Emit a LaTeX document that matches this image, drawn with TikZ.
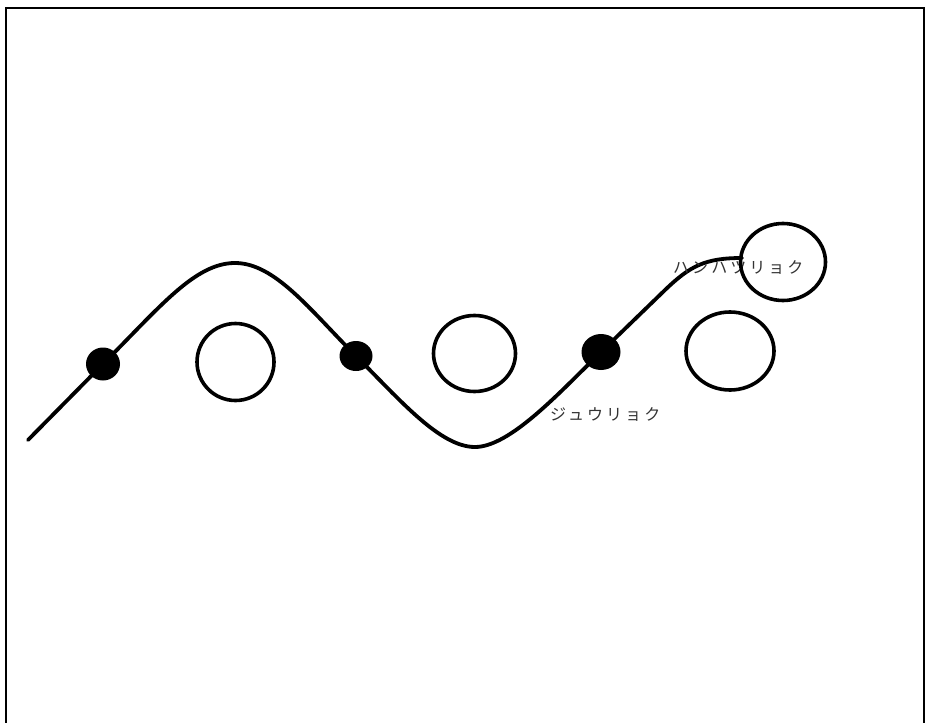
\documentclass[tikz,border=0pt]{standalone}
\usepackage{fontspec}
\newfontfamily\jpfont[LetterSpace=19]{Noto Sans CJK JP}
\tikzset{
  wave/.style={line width=3.8pt, line cap=round},
  dotblob/.style={fill=black},
  label/.style={anchor=west, inner sep=0pt, font=\jpfont\fontsize{16}{16}\selectfont, text=black!80},
}
\begin{document}
\begin{tikzpicture}[x=1pt, y=-1pt]
\useasboundingbox (0,0) rectangle (925,722);
\begin{scope}
\clip (0,0) rectangle (925,722);
\draw[line width=2pt] (6,8) rectangle (924,740);
\end{scope}
% circles
\draw[line width=3.6pt] (235.5,362) ellipse [x radius=38.5, y radius=38.5];
\draw[line width=3.6pt] (474.5,353.5) ellipse [x radius=41, y radius=38];
\draw[line width=3.6pt] (730,351) ellipse [x radius=44, y radius=39];
% coordinates
\coordinate (s) at (28,440);
\coordinate (d1) at (103,364);
\coordinate (p1) at (235,263);
\coordinate (d2) at (356,356);
\coordinate (t1) at (475,447);
\coordinate (d3) at (601,352);
\coordinate (m) at (665,290);
\coordinate (e) at (742,258);
\draw[wave] (s) -- (d1)
  .. controls (160,307) and (195,263) .. (p1)
  .. controls (275,263) and (310,310) .. (d2)
  .. controls (400,400) and (440,447) .. (t1)
  .. controls (510,447) and (560,392) .. (d3)
  -- (m)
  .. controls (690,266) and (705,258) .. (e);
% dots
\fill[dotblob] (d1) ellipse [x radius=17, y radius=16.5];
\fill[dotblob] (d2) ellipse [x radius=16.5, y radius=15];
\fill[dotblob] (d3) ellipse [x radius=19.5, y radius=18];
% labels
\node[label] (hanpatsu) at (673,267) {ハンハツリョク};
\node[label] (juryoku) at (550,414) {ジュウリョク};
\draw[line width=3.6pt] (783,262) ellipse [x radius=42.5, y radius=38.5];
\end{tikzpicture}
\end{document}
